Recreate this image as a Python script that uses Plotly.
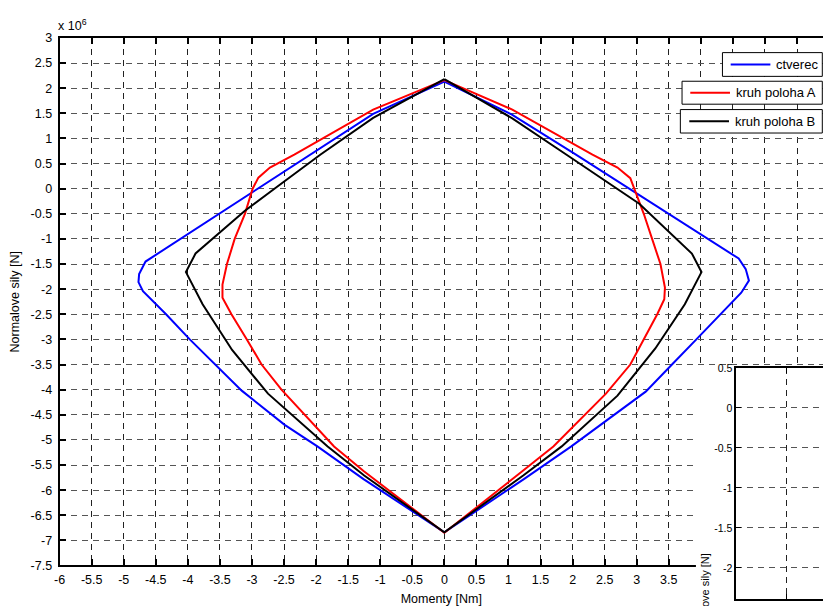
import plotly.graph_objects as go

# Interaction curves: bending moment (x) vs. normal force (y, in 1e6 N)
ctverec_m = [0.0, 1.06, 2.04, 4.59, 4.70, 4.75, 4.63, 4.30, 3.93, 3.55, 3.14,
             1.98, 1.24, 0.0, -1.26, -1.98, -2.49, -3.16, -3.57, -3.97, -4.34, -4.70,
             -4.77, -4.76, -4.66, -2.06, -1.11, 0.0]
ctverec_n = [2.13, 1.47, 0.69, -1.39, -1.60, -1.83, -2.07, -2.5, -3.0, -3.5, -4.04,
             -5.13, -5.78, -6.84, -5.78, -5.13, -4.70, -4.02, -3.5, -3.0, -2.5, -2.04,
             -1.86, -1.70, -1.45, 0.70, 1.49, 2.13]

kruh_a_m = [0.0, 1.06, 2.31, 2.70, 2.90, 2.96, 3.11, 3.24, 3.37, 3.44, 3.43, 3.32, 3.11, 2.90,
            2.52, 1.70, 1.22, 0.0, -1.26, -1.72, -2.54, -2.85, -3.08, -3.32, -3.46, -3.46,
            -3.39, -3.27, -3.11, -2.99, -2.90, -2.72, -2.34, -1.11, 0.0]
kruh_a_n = [2.16, 1.575, 0.68, 0.42, 0.21, 0.0, -0.5, -1.0, -1.5, -1.97, -2.20, -2.5, -3.0, -3.5,
            -4.08, -5.13, -5.62, -6.85, -5.62, -5.13, -4.0, -3.5, -3.0, -2.5, -2.17, -1.91,
            -1.5, -1.0, -0.5, 0.0, 0.22, 0.42, 0.68, 1.575, 2.16]

kruh_b_m = [0.0, 1.06, 1.90, 2.69, 3.04, 3.86, 4.01, 3.75, 3.29, 2.70, 1.83, 1.23, 0.0,
            -1.25, -1.82, -2.75, -3.31, -3.77, -4.03, -3.88, -3.11, -2.65, -1.93, -1.11, 0.0]
kruh_b_n = [2.18, 1.40, 0.68, 0.0, -0.30, -1.29, -1.66, -2.30, -3.18, -4.12, -5.13, -5.71, -6.84,
            -5.71, -5.13, -4.08, -3.21, -2.30, -1.66, -1.29, -0.44, 0.0, 0.68, 1.41, 2.18]

series_names = ["ctverec", "kruh poloha A", "kruh poloha B"]
series_colors = ["#0000ff", "#ff0000", "#000000"]

x_tick_vals = [-6, -5.5, -5, -4.5, -4, -3.5, -3, -2.5, -2, -1.5, -1, -0.5, 0, 0.5, 1, 1.5, 2, 2.5,
               3, 3.5, 4, 4.5, 5, 5.5]
x_tick_text = ["-6", "-5.5", "-5", "-4.5", "-4", "-3.5", "-3", "-2.5", "-2", "-1.5", "-1", "-0.5",
               "0", "0.5", "1", "1.5", "2", "2.5", "3", "3.5", "", "", "", ""]
y_tick_vals = [3, 2.5, 2, 1.5, 1, 0.5, 0, -0.5, -1, -1.5, -2, -2.5, -3, -3.5, -4, -4.5, -5, -5.5,
               -6, -6.5, -7, -7.5]
y_tick_text = ["3", "2.5", "2", "1.5", "1", "0.5", "0", "-0.5", "-1", "-1.5", "-2", "-2.5", "-3",
               "-3.5", "-4", "-4.5", "-5", "-5.5", "-6", "-6.5", "-7", "-7.5"]

inset_y_vals = [0.5, 0, -0.5, -1, -1.5, -2]
inset_y_text = ["0.5", "0", "-0.5", "-1", "-1.5", "-2"]

W, H = 823, 606
FONT = "Liberation Sans, Arial, sans-serif"


def px_x(p):
    return p / W


def px_y(p):
    return 1 - p / H


fig = go.Figure()

curves = [(ctverec_m, ctverec_n), (kruh_a_m, kruh_a_n), (kruh_b_m, kruh_b_n)]
for (m, n), name, color in zip(curves, series_names, series_colors):
    fig.add_trace(go.Scatter(x=m, y=n, mode="lines", name=name, showlegend=False,
                             line=dict(color=color, width=2)))

# blank panel of the second window and the empty second axes on top of it
fig.add_trace(go.Scatter(x=[], y=[], xaxis="x2", yaxis="y2", showlegend=False))
fig.add_trace(go.Scatter(x=[], y=[], xaxis="x3", yaxis="y3", showlegend=False))

# one framed key per series, stacked at the top right
key_boxes = [(721.7, 822.3, 46.7, 71.0, 730.0),
             (681.0, 822.3, 76.0, 99.5, 689.3),
             (679.3, 822.3, 105.0, 129.0, 688.3)]
shapes = []
annotations = []
for (x0, x1, y0, y1, lx), name, color in zip(key_boxes, series_names, series_colors):
    yc = (y0 + y1) / 2
    shapes.append(dict(type="rect", xref="paper", yref="paper", layer="above",
                       x0=px_x(x0), x1=px_x(x1), y0=px_y(y1), y1=px_y(y0),
                       fillcolor="white", line=dict(color="black", width=1)))
    shapes.append(dict(type="line", xref="paper", yref="paper", layer="above",
                       x0=px_x(lx), x1=px_x(lx + 40), y0=px_y(yc), y1=px_y(yc),
                       line=dict(color=color, width=2)))
    annotations.append(dict(text=name, xref="paper", yref="paper", x=px_x(lx + 44),
                            y=px_y(yc), xanchor="left", yanchor="middle", showarrow=False,
                            font=dict(family=FONT, size=13, color="black")))

annotations.append(dict(text="x 10<sup>6</sup>", xref="paper", yref="paper", x=px_x(50),
                        y=px_y(29), xanchor="left", yanchor="bottom", showarrow=False,
                        font=dict(family=FONT, size=12.5, color="black")))
annotations.append(dict(text="Normalove sily [N]", xref="paper", yref="paper", x=px_x(704),
                        y=px_y(557), xanchor="center", yanchor="top", textangle=-90,
                        showarrow=False, font=dict(family=FONT, size=11, color="black")))

grid_common = dict(showgrid=True, gridwidth=1, griddash="6px,5px", zeroline=False)

fig.update_layout(
    width=W, height=H,
    margin=dict(l=0, r=0, t=0, b=0),
    paper_bgcolor="white", plot_bgcolor="white",
    showlegend=False,
    font=dict(family=FONT, size=12, color="black"),
    xaxis=dict(domain=[px_x(54), 1], range=[-6, 5.905], anchor="y",
               tickmode="array", tickvals=x_tick_vals, ticktext=x_tick_text,
               tickfont=dict(size=12.5), ticklabelstandoff=2,
               ticks="inside", ticklen=6, tickwidth=1.5, tickcolor="black",
               showline=True, linewidth=2, linecolor="black", mirror="ticks",
               gridcolor="#222222", **grid_common,
               title=dict(text="Momenty [Nm]", font=dict(size=12.5), standoff=10)),
    yaxis=dict(domain=[px_y(571.7), px_y(31.7)], range=[-7.5, 3], anchor="x",
               tickmode="array", tickvals=y_tick_vals, ticktext=y_tick_text,
               tickfont=dict(size=12.5), ticklabelstandoff=3,
               ticks="inside", ticklen=6, tickwidth=1.5, tickcolor="black",
               showline=True, linewidth=2, linecolor="black", mirror=False,
               gridcolor="#555555", **grid_common,
               title=dict(text="Normalove sily [N]", font=dict(size=12.5), standoff=8)),
    xaxis2=dict(domain=[px_x(695), 1], range=[0, 1], anchor="y2", visible=False),
    yaxis2=dict(domain=[0, px_y(367)], range=[0, 1], anchor="x2", visible=False),
    xaxis3=dict(domain=[px_x(735.7), 1], range=[-6, -5.144], anchor="y3",
                tickmode="array", tickvals=[-5.5], showticklabels=False,
                ticks="inside", ticklen=5, tickwidth=1, tickcolor="black",
                showline=True, linewidth=2, linecolor="black", mirror="ticks",
                gridcolor="#222222", **grid_common),
    yaxis3=dict(domain=[0, px_y(369.3)], range=[-2.39, 0.502], anchor="x3",
                tickmode="array", tickvals=inset_y_vals, ticktext=inset_y_text,
                tickfont=dict(size=10.5),
                ticks="inside", ticklen=5, tickwidth=1, tickcolor="black",
                showline=True, linewidth=2, linecolor="black", mirror=False,
                gridcolor="#555555", **grid_common),
    shapes=shapes,
    annotations=annotations,
)

fig.write_html("out.html")
